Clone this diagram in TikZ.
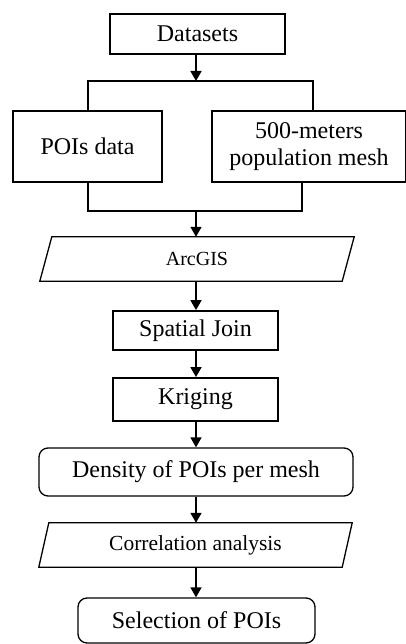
\documentclass[tikz,border=0pt]{standalone}
\usepackage{fontspec}
\setmainfont{Liberation Serif}
\usetikzlibrary{arrows.meta,calc}
\begin{document}
\begin{tikzpicture}[x=1pt,y=1pt,
  every node/.style={font=\fontsize{24}{27}\selectfont, inner sep=0pt, align=center},
  box/.style={draw, line width=1.8pt, minimum width=#1},
  rbox/.style={draw, line width=1.3pt, rounded corners=9pt, minimum width=#1},
  plain/.style={minimum width=#1},
  pgram/.style={line width=1.3pt, line join=miter},
  arr/.style={line width=1.7pt, -{Triangle[width=11pt,length=10pt]}}
]
\useasboundingbox (0,0) rectangle (406,644);
% nodes (y = 644 - pixel row)
\node[box=175, minimum height=40] (ds) at (197.5,610) {Datasets};
\node[box=149, minimum height=71] (pois) at (87.5,497.5) {POIs data};
\node[box=194, minimum height=71] (mesh) at (309,497.5) {500-meters\\population mesh};
\node[plain=302, minimum height=44, font=\fontsize{20}{24}\selectfont] (arc) at (197,385) {ArcGIS};
\node[box=165, minimum height=39] (sj) at (195.5,313.5) {Spatial Join};
\node[box=165, minimum height=43] (kr) at (195.5,244.5) {Kriging};
\node[rbox=314, minimum height=48] (den) at (196,172) {Density of POIs per mesh};
\node[plain=303, minimum height=44, font=\fontsize{21.5}{24}\selectfont] (cor) at (195.5,99) {Correlation analysis};
\node[rbox=237, minimum height=45] (sel) at (196.5,23.5) {Selection of POIs};
% parallelogram outlines
\draw[pgram] ($(arc.north west)+(6,0)$) -- ($(arc.north east)+(6,0)$) -- ($(arc.south east)+(-6,0)$) -- ($(arc.south west)+(-6,0)$) -- cycle;
\draw[pgram] ($(cor.north west)+(5,0)$) -- ($(cor.north east)+(5,0)$) -- ($(cor.south east)+(-5,0)$) -- ($(cor.south west)+(-5,0)$) -- cycle;
% spine and bracket coordinates
\coordinate (spine) at (196,0);
\coordinate (tl) at (88,563);
\coordinate (tr) at (313,563);
\coordinate (bl) at (88,433);
\coordinate (br) at (302,433);
% brackets
\draw[box=0] (pois.north -| tl) -- (tl) -- (tr) -- (mesh.north -| tr);
\draw[box=0] (pois.south -| bl) -- (bl) -- (br) -- (mesh.south -| br);
% arrows
\draw[arr] (ds.south -| spine) -- (spine |- tl);
\draw[arr] (spine |- bl) -- (arc.north -| spine);
\draw[arr] (arc.south -| spine) -- (sj.north -| spine);
\draw[arr] (sj.south -| spine) -- (kr.north -| spine);
\draw[arr] (kr.south -| spine) -- (den.north -| spine);
\draw[arr] (den.south -| spine) -- (cor.north -| spine);
\draw[arr] (cor.south -| spine) -- (sel.north -| spine);
\end{tikzpicture}
\end{document}
